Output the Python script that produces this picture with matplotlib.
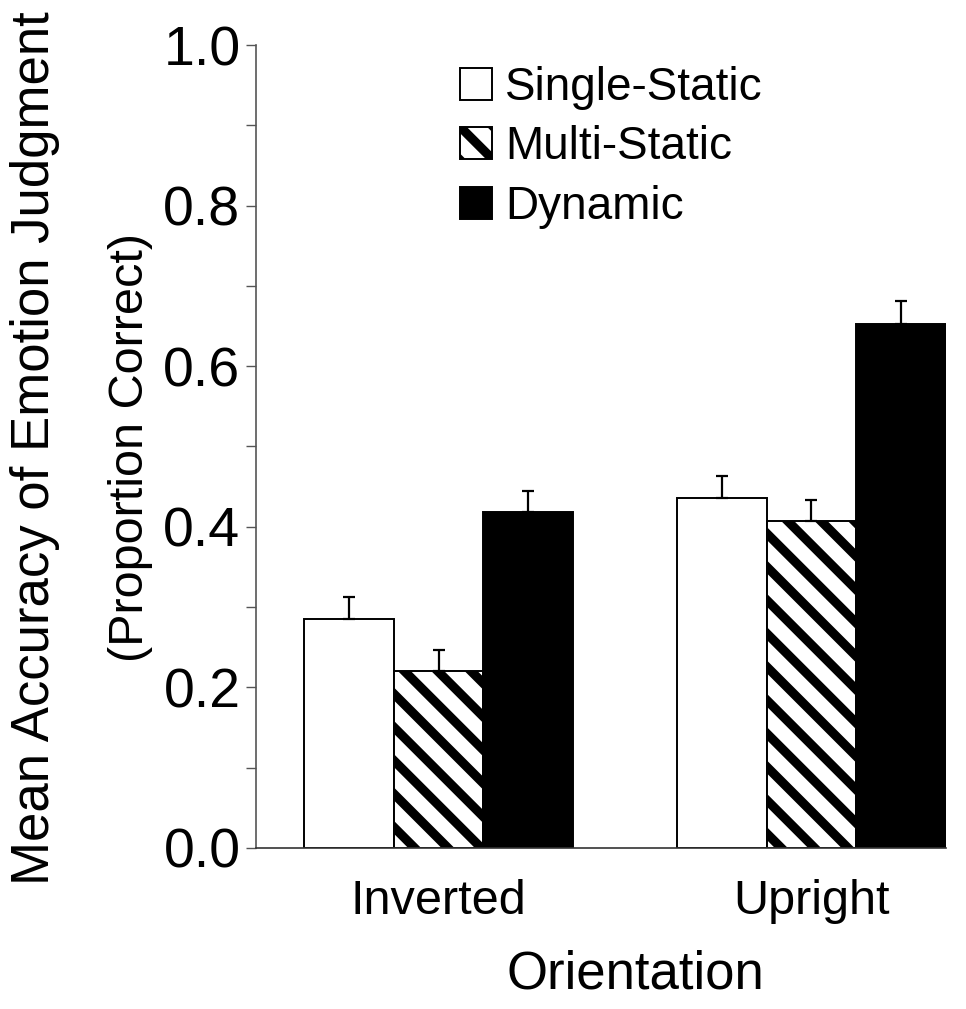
import matplotlib.pyplot as plt
import numpy as np

# values
orientations = ["Inverted", "Upright"]
conditions = ["Single-Static", "Multi-Static", "Dynamic"]
means = {
    "Single-Static": [0.285, 0.436],
    "Multi-Static": [0.220, 0.407],
    "Dynamic": [0.418, 0.653],
}
errors = {
    "Single-Static": [0.028, 0.027],
    "Multi-Static": [0.027, 0.026],
    "Dynamic": [0.026, 0.028],
}
styles = {
    "Single-Static": dict(color="white", hatch=None),
    "Multi-Static": dict(color="white", hatch="\\\\"),
    "Dynamic": dict(color="black", hatch=None),
}

plt.rcParams.update({
    "font.family": ["Liberation Sans", "DejaVu Sans"],
    "hatch.linewidth": 3.3,
    "hatch.color": "black",
})

fig = plt.figure(figsize=(4.83, 5.045), dpi=200)
ax = fig.add_axes([0.265, 0.1596, 0.714, 0.7958])

width = 0.24
x = np.arange(len(orientations))
for i, cond in enumerate(conditions):
    pos = x + (i - 1) * width
    st = styles[cond]
    vals = np.array(means[cond])
    err = np.array(errors[cond])
    ax.bar(pos, vals, width, color=st["color"], hatch=st["hatch"],
           edgecolor="black", linewidth=0.7, label=cond, zorder=2)
    ax.errorbar(pos, vals, yerr=[np.zeros_like(err), err], fmt="none",
                ecolor="black", elinewidth=0.8, capsize=2.3, capthick=0.8, zorder=3)

ax.set_xlim(-0.49, 1.36)
ax.set_ylim(0, 1.0)
ax.set_yticks(np.arange(0, 1.01, 0.2))
ax.set_yticks(np.arange(0.1, 1.0, 0.2), minor=True)
ax.set_yticklabels([f"{v:.1f}" for v in np.arange(0, 1.01, 0.2)], fontsize=20)
ax.tick_params(axis="y", which="both", direction="out", length=3.6, width=0.5,
               color="#555555", pad=2)
ax.set_xticks(x)
ax.set_xticklabels(orientations, fontsize=17.5)
ax.tick_params(axis="x", length=0, pad=11)

for side in ["top", "right"]:
    ax.spines[side].set_visible(False)
ax.spines["left"].set_linewidth(0.6)
ax.spines["left"].set_color("#555555")
ax.spines["bottom"].set_linewidth(0.6)
ax.spines["bottom"].set_color("#333333")

fig.text(635 / 966, 0.034, "Orientation", ha="center", va="center", fontsize=19)
fig.text(0.036, 0.556, "Mean Accuracy of Emotion Judgment", rotation=90,
         ha="center", va="center", fontsize=19)
fig.text(0.135, 0.556, "(Proportion Correct)", rotation=90,
         ha="center", va="center", fontsize=17.5)

leg = ax.legend(loc="upper left", bbox_to_anchor=(460 / 966, 0.935),
                bbox_transform=fig.transFigure, frameon=False,
                fontsize=16.5, handlelength=0.7, handleheight=0.7,
                handletextpad=0.28, labelspacing=0.34, borderaxespad=0,
                borderpad=0)

fig.savefig("out.png", dpi=200)
